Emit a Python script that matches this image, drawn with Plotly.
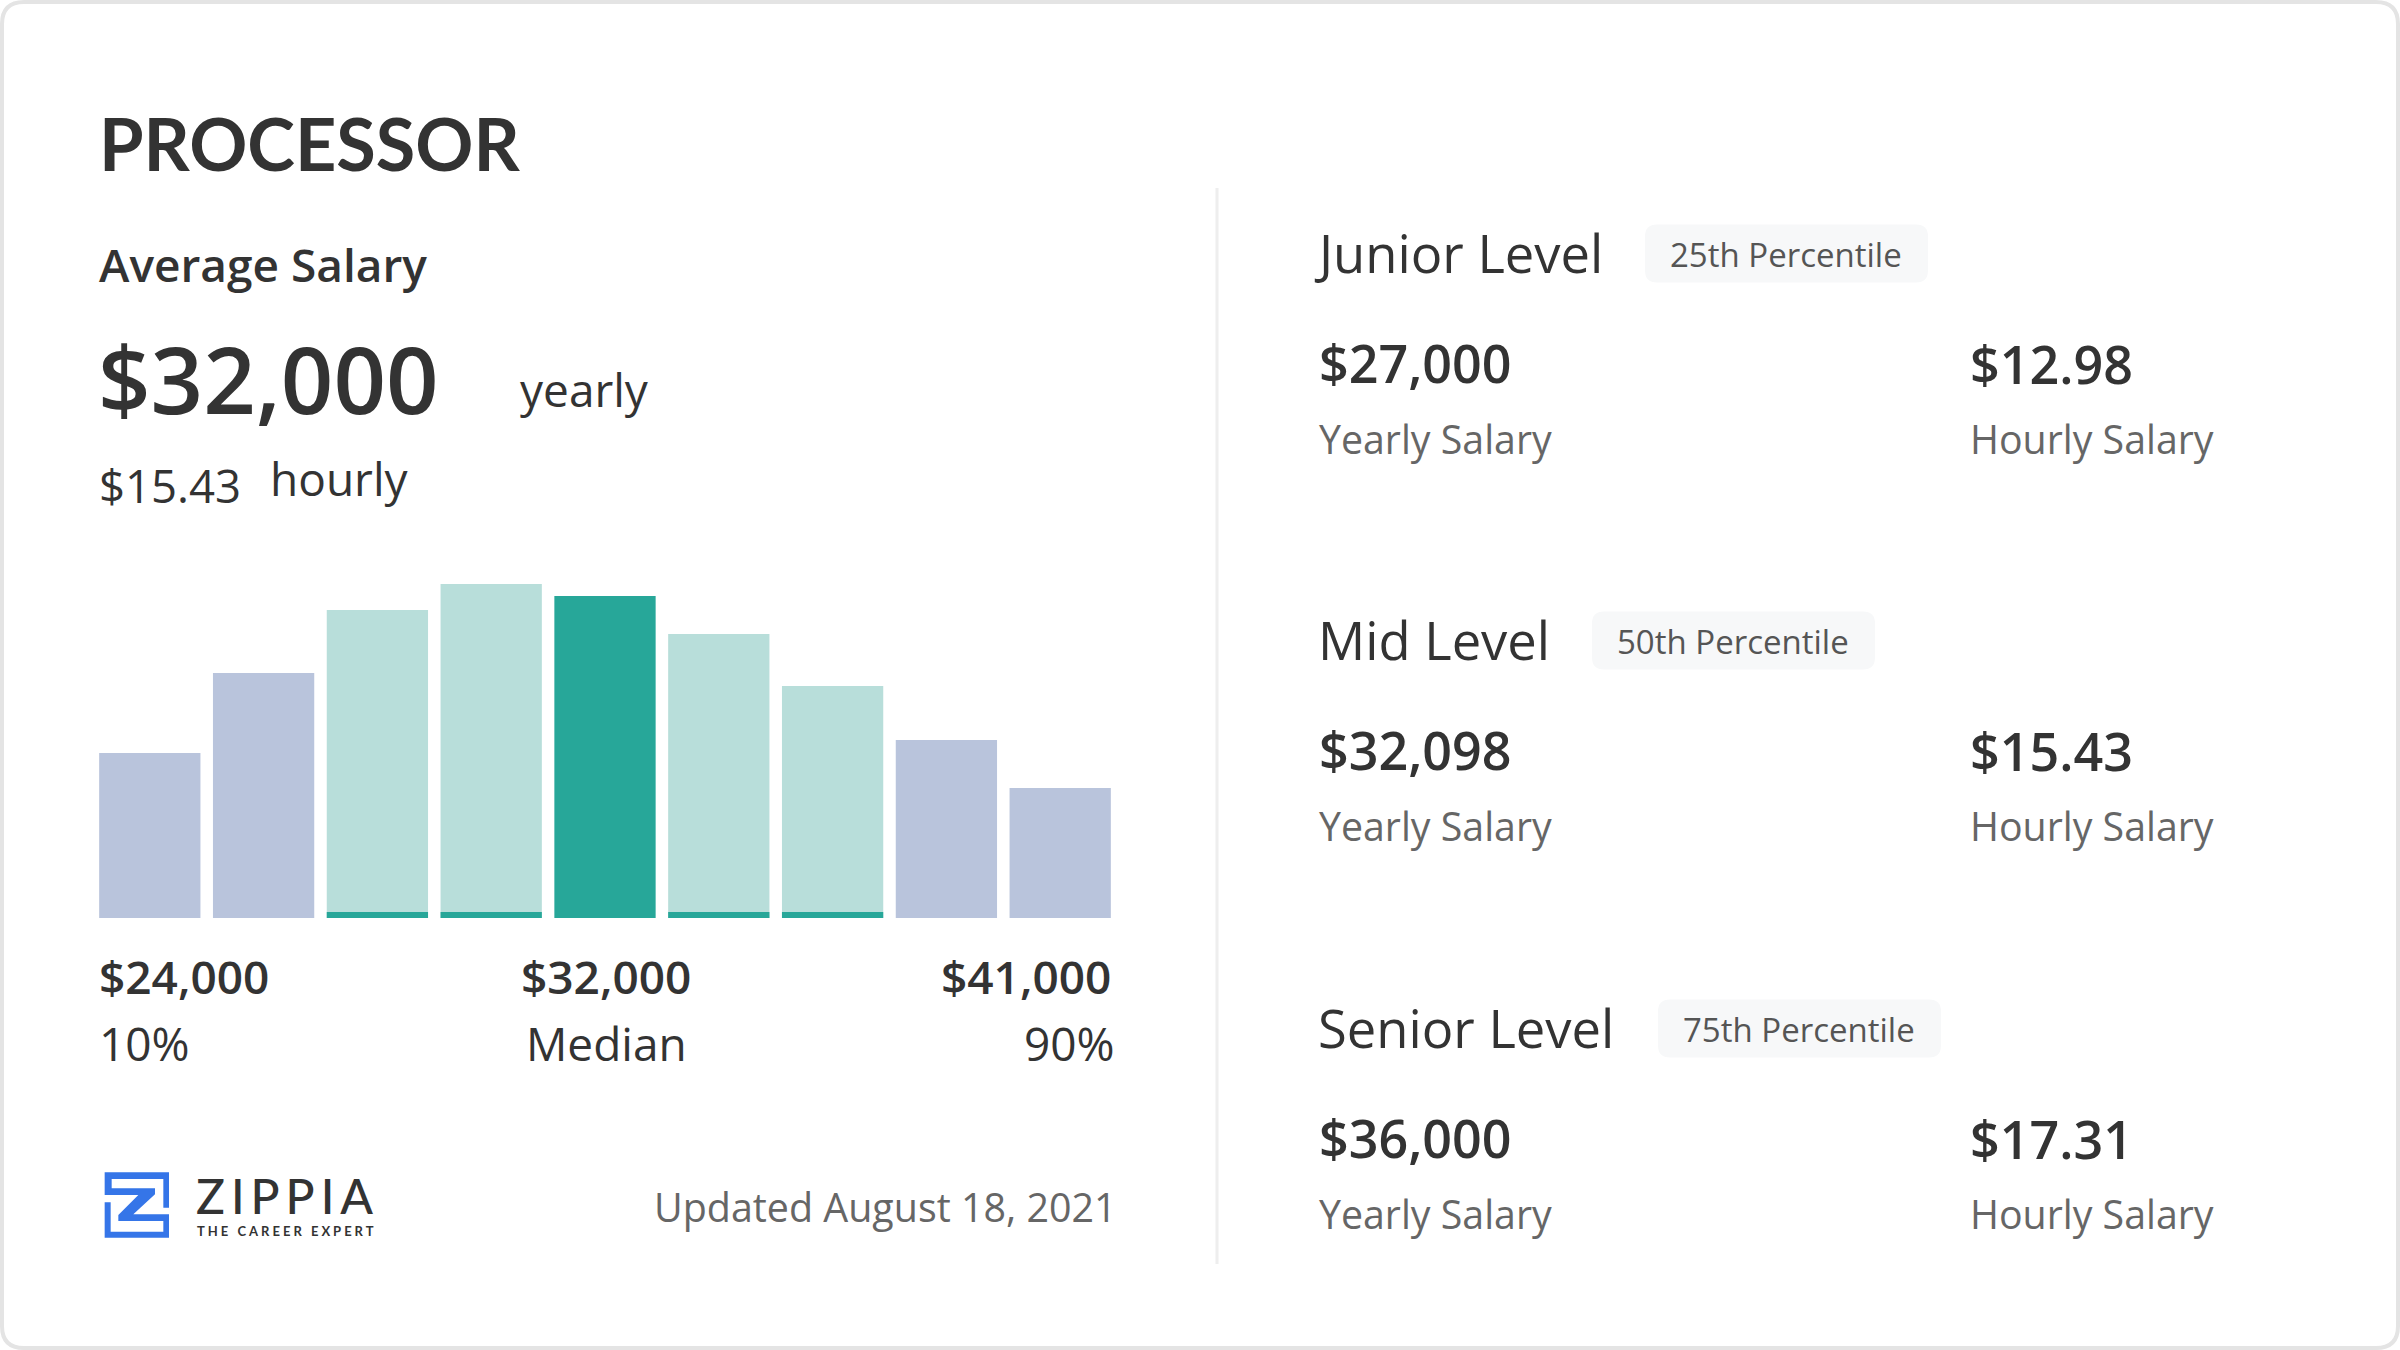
import plotly.graph_objects as go

W = 2400
H = 1350

# salary distribution, bar heights
bins = list(range(1, 10))
bar_heights = [165, 245, 308, 334, 322, 284, 232, 178, 130]
stripe_heights = [0, 0, 6, 6, 0, 6, 6, 0, 0]

LAVENDER = "#b9c4dc"
PALE_TEAL = "#b8deda"
TEAL = "#27a799"
bar_colors = [LAVENDER, LAVENDER, PALE_TEAL, PALE_TEAL, TEAL, PALE_TEAL, PALE_TEAL, LAVENDER, LAVENDER]

range_values = ["$24,000", "$32,000", "$41,000"]
range_labels = ["10%", "Median", "90%"]

levels = ["Junior Level", "Mid Level", "Senior Level"]
percentiles = ["25th Percentile", "50th Percentile", "75th Percentile"]
yearly = ["$27,000", "$32,098", "$36,000"]
hourly = ["$12.98", "$15.43", "$17.31"]

DARK = "#333333"
GREY = "#666666"
BODY = "Open Sans"


def px(x):
    return x / W


def py(y):
    return 1 - y / H


def label(x, y, text, size, color=DARK, anchor="left", weight=400, family=BODY):
    fig.add_annotation(
        x=px(x), y=py(y), xref="paper", yref="paper", text=text, showarrow=False,
        xanchor=anchor, yanchor="middle", borderpad=0,
        font=dict(family=family, size=size, color=color, weight=weight),
    )


def rounded_rect(x0, y0, x1, y1, r):
    pts = (
        f"M {px(x0 + r)} {py(y0)} L {px(x1 - r)} {py(y0)} "
        f"Q {px(x1)} {py(y0)} {px(x1)} {py(y0 + r)} L {px(x1)} {py(y1 - r)} "
        f"Q {px(x1)} {py(y1)} {px(x1 - r)} {py(y1)} L {px(x0 + r)} {py(y1)} "
        f"Q {px(x0)} {py(y1)} {px(x0)} {py(y1 - r)} L {px(x0)} {py(y0 + r)} "
        f"Q {px(x0)} {py(y0)} {px(x0 + r)} {py(y0)} Z"
    )
    return pts


fig = go.Figure()
fig.add_trace(go.Bar(x=bins, y=bar_heights, marker=dict(color=bar_colors, line=dict(width=0)), hoverinfo="skip"))
fig.add_trace(go.Bar(x=bins, y=stripe_heights, marker=dict(color=TEAL, line=dict(width=0)), hoverinfo="skip"))

fig.update_layout(
    width=W,
    height=H,
    margin=dict(l=0, r=0, t=0, b=0),
    paper_bgcolor="white",
    plot_bgcolor="rgba(0,0,0,0)",
    showlegend=False,
    barmode="overlay",
    bargap=0.11,
    xaxis=dict(domain=[px(92.9), px(1117.1)], range=[0.5, 9.5], visible=False),
    yaxis=dict(domain=[py(918), py(578)], range=[0, 340], visible=False),
)

# card outline and divider
fig.add_shape(type="path", path=rounded_rect(2, 2, 2398, 1348, 22), xref="paper", yref="paper",
              line=dict(color="#e4e4e4", width=4), layer="below")
fig.add_shape(type="line", x0=px(1217), x1=px(1217), y0=py(188), y1=py(1264), xref="paper", yref="paper",
              line=dict(color="#eeeeee", width=3), layer="below")

# left panel
label(98, 143, "PROCESSOR", 72, weight=700, family="Lato")
label(98, 264, "Average Salary", 46, weight=600)
label(97, 378, "$32,000", 92, weight=600)
label(519, 389, "yearly", 46)
label(98, 485, "$15.43", 45.5)
label(269, 478, "hourly", 46)

range_x = [98, 606, 1112]
range_anchor = ["left", "center", "right"]
for x, a, v, t in zip(range_x, range_anchor, range_values, range_labels):
    label(x, 975.5, v, 46, anchor=a, weight=600)
    label(x + (4 if a == "right" else 0), 1042.5, t, 46, anchor=a)

# logo
logo = [(14, 22), (207, 22), (207, 128), (190, 128), (190, 42), (35, 42), (35, 70), (165, 70), (165, 88),
        (100, 148), (207, 148), (207, 218), (14, 218), (14, 112), (32, 112), (32, 200), (190, 200), (190, 168),
        (55, 168), (55, 150), (115, 90), (14, 90)]
logo_path = "M " + " L ".join(f"{px(100 + a / 3)} {py(1165 + b / 3)}" for a, b in logo) + " Z"
fig.add_shape(type="path", path=logo_path, xref="paper", yref="paper", fillcolor="#3575e8", line=dict(width=0))
label(195, 1195, '<span style="letter-spacing:6px">ZIPPIA</span>', 48, weight=500, family="Lato")
label(196, 1231, '<span style="letter-spacing:3px">THE CAREER EXPERT</span>', 13, weight=700, family="Lato")

label(1118, 1207, "Updated August 18, 2021", 39.4, color=GREY, anchor="right")

# right panel
row_y = [252.5, 639.5, 1027.5]
level_x = [1313, 1317, 1317]
badge_x = [1645, 1592, 1658]
for i in range(3):
    y = row_y[i]
    x0 = badge_x[i]
    fig.add_shape(type="path", path=rounded_rect(x0, y - 28, x0 + 283, y + 30, 12), xref="paper", yref="paper",
                  fillcolor="#f7f8f9", line=dict(width=0), layer="below")
    label(level_x[i], y, levels[i], 52.5)
    label(x0 + 141, y + 1.5, percentiles[i], 33, color="#555555", anchor="center")
    label(1318, y + 110, yearly[i], 52, weight=600)
    label(1969, y + 111, hourly[i], 52, weight=600)
    label(1318, y + 186.5, "Yearly Salary", 39.3, color=GREY)
    label(1969, y + 186.5, "Hourly Salary", 39.3, color=GREY)

fig.write_html("out.html", config=dict(displayModeBar=False), post_script="document.body.style.margin='0';")
